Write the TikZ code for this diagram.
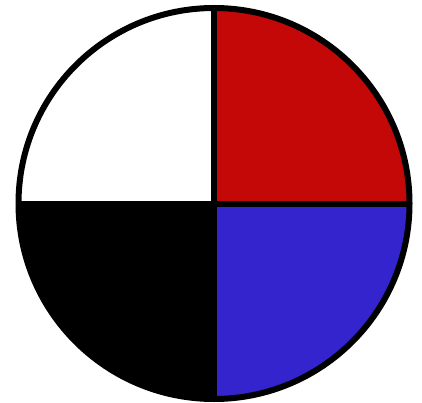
\documentclass[tikz,border=0pt]{standalone}
\usetikzlibrary{calc}
\definecolor{qred}{RGB}{196,8,8}
\definecolor{qblue}{RGB}{52,36,206}
\begin{document}
\begin{tikzpicture}[x=1pt,y=1pt,
  edge/.style={line width=6pt,draw=black}]
\useasboundingbox (0,0) rectangle (422,402);
\coordinate (c) at (214,198.5);
\def\R{195.5}
\fill[white] (c) -- ++(180:\R) arc (180:90:\R) -- cycle;
\fill[qred] (c) -- ++(90:\R) arc (90:0:\R) -- cycle;
\fill[qblue] (c) -- ++(0:\R) arc (0:-90:\R) -- cycle;
\fill[black] (c) -- ++(-90:\R) arc (-90:-180:\R) -- cycle;
\coordinate (t) at ($(c)+(0,\R)$);
\coordinate (b) at ($(c)+(0,-\R)$);
\coordinate (l) at ($(c)+(-\R,0)$);
\coordinate (r) at ($(c)+(\R,0)$);
\draw[edge] (t) -- (b);
\draw[edge] (l) -- (r);
\draw[edge] (c) circle (\R);
\end{tikzpicture}
\end{document}
